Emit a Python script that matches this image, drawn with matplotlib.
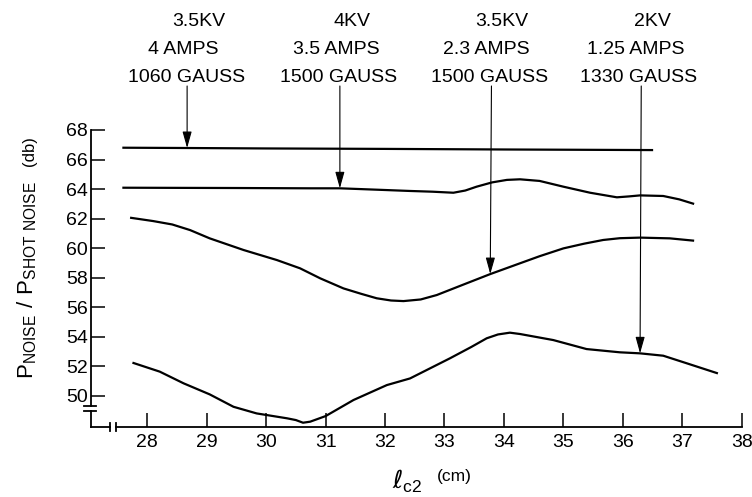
import matplotlib
matplotlib.use("Agg")
import matplotlib.pyplot as plt
import numpy as np

plt.rcParams['font.family'] = ['Liberation Sans', 'DejaVu Sans']
plt.rcParams['mathtext.default'] = 'regular'

# curve readings (l_c2 in cm, noise ratio in db)
x_a = [27.58, 28.67, 30.0, 32.0, 34.0, 36.51]
y_a = [66.80, 66.78, 66.75, 66.72, 66.68, 66.64]

x_b = [27.58, 28.5, 29.5, 30.74, 31.24, 31.9, 32.42, 32.8, 33.15, 33.35, 33.54,
       33.8, 34.05, 34.27, 34.6, 35.0, 35.45, 35.9, 36.1, 36.29, 36.68, 36.95, 37.20]
y_b = [64.09, 64.08, 64.07, 64.05, 64.05, 63.95, 63.87, 63.82, 63.75, 63.9, 64.16,
       64.45, 64.62, 64.66, 64.55, 64.16, 63.75, 63.44, 63.5, 63.57, 63.53, 63.3, 62.99]

x_c = [27.71, 28.10, 28.42, 28.72, 29.05, 29.62, 30.18, 30.57, 30.91, 31.30, 31.6,
       31.86, 32.1, 32.31, 32.6, 32.87, 33.3, 33.77, 34.27, 34.6, 35.0, 35.35,
       35.67, 35.95, 36.29, 36.79, 37.20]
y_c = [62.06, 61.83, 61.6, 61.22, 60.66, 59.87, 59.19, 58.63, 57.95, 57.27, 56.9,
       56.60, 56.45, 56.41, 56.52, 56.82, 57.5, 58.24, 58.97, 59.45, 59.98, 60.3,
       60.55, 60.67, 60.71, 60.66, 60.50]

x_d = [27.75, 28.21, 28.61, 29.05, 29.45, 29.84, 30.35, 30.5, 30.62, 30.74, 31.0,
       31.47, 32.03, 32.42, 33.09, 33.45, 33.71, 33.9, 34.10, 34.27, 34.83, 35.39,
       35.95, 36.29, 36.68, 37.08, 37.60]
y_d = [52.24, 51.63, 50.84, 50.09, 49.25, 48.80, 48.47, 48.35, 48.17, 48.24, 48.62,
       49.71, 50.72, 51.17, 52.53, 53.3, 53.89, 54.15, 54.27, 54.18, 53.77, 53.16,
       52.94, 52.87, 52.71, 52.19, 51.51]

xticks = list(range(28, 39))
yticks = list(range(50, 69, 2))

kv_labels = ['3.5KV', '4KV', '3.5KV', '2KV']
amp_labels = ['4 AMPS', '3.5 AMPS', '2.3 AMPS', '1.25 AMPS']
gauss_labels = ['1060 GAUSS', '1500 GAUSS', '1500 GAUSS', '1330 GAUSS']
arrow_x = [28.67, 31.24, 33.77, 36.29]

W, H = 752, 497
fig = plt.figure(figsize=(W / 100, H / 100), dpi=100)
ax = fig.add_axes([91 / W, 1 - 427.3 / H, 650.7 / W, 297.3 / H])
ax.set_xlim(27.053, 38)
ax.set_ylim(47.86, 68)

for xs, ys in [(x_a, y_a), (x_b, y_b), (x_c, y_c), (x_d, y_d)]:
    ax.plot(xs, ys, color='black', lw=1.6, solid_capstyle='butt')

# spines drawn by hand so the breaks can go in
for s in ax.spines.values():
    s.set_visible(False)
tr = ax.transAxes
kw = dict(color='black', lw=1.3, transform=tr, clip_on=False)
ax.plot([0, 0], [1, 0.072], **kw)
ax.plot([0, 0], [0.055, 0], **kw)
ax.plot([0, 0.029], [0, 0], **kw)
ax.plot([0.038, 1], [0, 0], **kw)
for yy in [0.072, 0.055]:
    ax.plot([-0.011, 0.008], [yy, yy], **kw)
for xx in [0.029, 0.038]:
    ax.plot([xx, xx], [-0.014, 0.016], **kw)

ax.set_xticks(xticks)
ax.set_yticks(yticks)
ax.tick_params(direction='in', length=10, width=1.1, labelsize=14)
ax.tick_params(axis='x', pad=5)
ax.tick_params(axis='y', pad=2)

# arrows from the operating condition notes down to the curves
curves = [(x_a, y_a), (x_b, y_b), (x_c, y_c), (x_d, y_d)]
top_y = 68 + 44 / 14.76
for i, xa in enumerate(arrow_x):
    xs, ys = curves[i]
    tip = np.interp(xa, xs, ys)
    ax.annotate('', xy=(xa, tip), xytext=(xa + 0.02 * (i >= 2), top_y),
                arrowprops=dict(arrowstyle='-|>,head_length=1.0,head_width=0.28',
                                mutation_scale=10, lw=0.8, color='black',
                                shrinkA=0, shrinkB=0),
                annotation_clip=False)

for i, xa in enumerate(arrow_x):
    px = 147.3 + (xa - 28) * 59.44
    fig.text((px + 12) / W, 1 - 22 / H, kv_labels[i], ha='center', va='center', fontsize=14)
    fig.text((px - 4) / W, 1 - 50 / H, amp_labels[i], ha='center', va='center', fontsize=14)
    fig.text((px - 1) / W, 1 - 77 / H, gauss_labels[i], ha='center', va='center', fontsize=14)

fig.text(27 / W, 1 - 280 / H, r'$P_{NOISE}\ /\ P_{SHOT\ NOISE}$', rotation=90,
         ha='center', va='center', fontsize=16)
fig.text(30 / W, 1 - 151 / H, '(db)', rotation=90, ha='center', va='center', fontsize=12)

fig.text(392 / W, 1 - 481 / H, r'$\mathit{\ell}_{c2}$', ha='left', va='center', fontsize=18)
fig.text(437 / W, 1 - 477 / H, '(cm)', ha='left', va='center', fontsize=12.5)

fig.savefig('out.png', dpi=100)
